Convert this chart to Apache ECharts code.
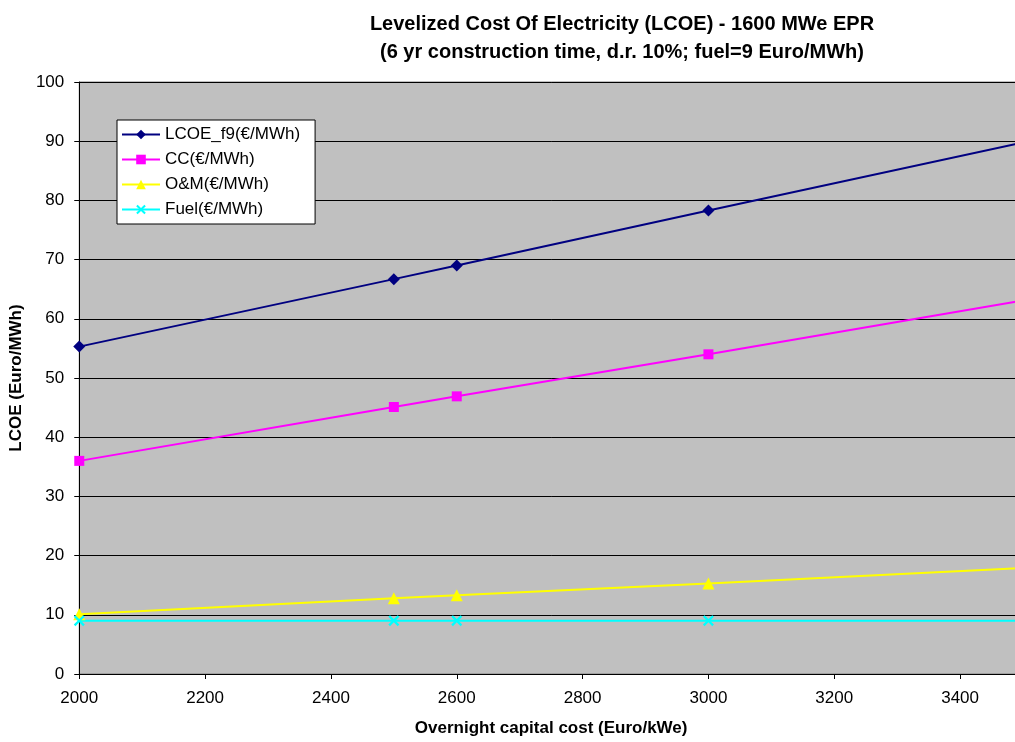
<!DOCTYPE html>
<html>
<head>
<meta charset="utf-8">
<script src="https://cdn.jsdelivr.net/npm/echarts@6/dist/echarts.min.js"></script>
<style>
  html, body { margin: 0; padding: 0; background: #fff; overflow: hidden; }
  /* the plot area runs a little past the right edge of the window */
  #chart { width: 1023px; height: 742px; }
</style>
</head>
<body>
<div id="chart"></div>
<script>
// Overnight capital cost (Euro/kWe)
const capitalCost = [2000, 2500, 2600, 3000, 3500];
// Cost components (Euro/MWh)
const lcoeF9 = [55.3, 66.7, 69.0, 78.3, 89.8];
const capitalCharge = [36.0, 45.1, 46.9, 54.0, 63.1];
const operationMaintenance = [10.1, 12.8, 13.3, 15.3, 17.9];
const fuel = [9.0, 9.0, 9.0, 9.0, 9.0];

const seriesNames = ['LCOE_f9(€/MWh)', 'CC(€/MWh)', 'O&M(€/MWh)', 'Fuel(€/MWh)'];
const xTicks = { min: 2000, max: 3500, step: 200 };
const yTicks = { min: 0, max: 100, step: 10 };

const pairs = vals => capitalCost.map((c, i) => [c, vals[i]]);
const crossPath = 'path://M0,1.5L1.5,0L5,3.5L8.5,0L10,1.5L6.5,5L10,8.5L8.5,10L5,6.5L1.5,10L0,8.5L3.5,5Z';

const chart = echarts.init(document.getElementById('chart'));
chart.setOption({
  backgroundColor: '#ffffff',
  animation: false,
  textStyle: { fontFamily: 'Liberation Sans, Arial, sans-serif' },
  title: {
    text: 'Levelized Cost Of Electricity (LCOE) - 1600 MWe EPR\n(6 yr construction time, d.r. 10%; fuel=9 Euro/MWh)',
    left: 617, top: 5, textAlign: 'center',
    textStyle: { fontSize: 20, fontWeight: 'bold', color: '#000', lineHeight: 28 }
  },
  grid: {
    left: 78, top: 82, right: 0, bottom: 66,
    show: true, backgroundColor: '#C0C0C0', borderColor: '#808080', borderWidth: 1
  },
  legend: {
    orient: 'vertical', left: 117, top: 120,
    backgroundColor: '#ffffff', borderColor: '#000', borderWidth: 1,
    padding: [5, 15, 5, 4], itemGap: 6, itemWidth: 38, itemHeight: 12,
    textStyle: { fontSize: 17, color: '#000', lineHeight: 19 },
    data: seriesNames
  },
  xAxis: {
    type: 'value', min: xTicks.min, max: xTicks.max, interval: xTicks.step,
    name: 'Overnight capital cost (Euro/kWe)', nameLocation: 'middle', nameGap: 46,
    nameTextStyle: { fontSize: 17, fontWeight: 'bold', color: '#000' },
    axisLine: { lineStyle: { color: '#000', width: 1 } },
    axisTick: { show: true, length: 5, lineStyle: { color: '#000' } },
    axisLabel: { fontSize: 17, color: '#000', margin: 16, showMaxLabel: false, formatter: v => String(v) },
    splitLine: { show: false }
  },
  yAxis: {
    type: 'value', min: yTicks.min, max: yTicks.max, interval: yTicks.step,
    name: 'LCOE (Euro/MWh)', nameLocation: 'middle', nameGap: 54, nameRotate: 90,
    nameTextStyle: { fontSize: 17, fontWeight: 'bold', color: '#000' },
    axisLine: { show: true, lineStyle: { color: '#000', width: 1 } },
    axisTick: { show: true, length: 5, lineStyle: { color: '#000' } },
    axisLabel: { fontSize: 17, color: '#000', margin: 15 },
    splitLine: { show: true, lineStyle: { color: '#000', width: 1 } }
  },
  series: [
    {
      name: seriesNames[0], type: 'line', data: pairs(lcoeF9),
      symbol: 'diamond', symbolSize: 12,
      lineStyle: { color: '#000080', width: 2 }, itemStyle: { color: '#000080' }
    },
    {
      name: seriesNames[1], type: 'line', data: pairs(capitalCharge),
      symbol: 'rect', symbolSize: 10,
      lineStyle: { color: '#FF00FF', width: 2 }, itemStyle: { color: '#FF00FF' }
    },
    {
      name: seriesNames[2], type: 'line', data: pairs(operationMaintenance),
      symbol: 'triangle', symbolSize: 12,
      lineStyle: { color: '#FFFF00', width: 2 }, itemStyle: { color: '#FFFF00' }
    },
    {
      name: seriesNames[3], type: 'line', data: pairs(fuel),
      symbol: crossPath, symbolSize: 11,
      lineStyle: { color: '#00FFFF', width: 2 }, itemStyle: { color: '#00FFFF' }
    }
  ]
});
</script>
</body>
</html>
